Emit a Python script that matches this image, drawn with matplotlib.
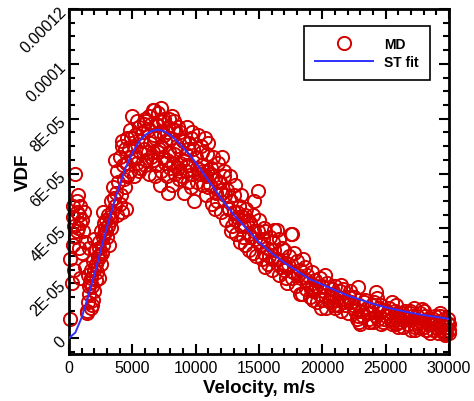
import numpy as np
import matplotlib.pyplot as plt
from matplotlib.ticker import MultipleLocator

plt.rcParams['font.family'] = ['Liberation Sans', 'DejaVu Sans']

E5 = 1e-5

# MD samples: velocity (m/s) and VDF (in units of 1E-05)
md_velocity = [
    # near zero velocity
    100, 250, 100, 300, 500, 400, 300, 600, 800, 900, 600, 1000, 500, 700, 800, 1100,
    400, 1200, 900, 1000, 1250, 700, 600, 850, 350,
    # rising branch
    1400, 1500, 1700, 1600, 1800, 1900, 2000, 2100, 1500, 1300, 1700, 2200, 2400, 1900,
    2300, 2500, 2600, 2100, 2000, 1600, 2400, 2700, 2800, 2500, 3000, 3100, 2900, 3300,
    3200, 2700, 1450, 1650, 2250, 2950,
    1550, 1750, 1850, 2150, 2350, 2650, 2850, 3050, 3350, 3550, 3150, 2450, 1950, 2750,
    # shoulder
    3400, 3600, 3300, 3800, 4000, 4200, 4500, 3700, 3500, 3900, 4100, 4400, 4600, 3800,
    4300, 4000, 4500, 4800, 4200, 4700, 4900, 3650, 4350, 4150,
    4400, 4600, 4900, 5100, 5400,
    # peak, upper part
    5000, 5500, 6000, 6500, 7000, 7300, 7500, 7800, 8300, 8800, 9300, 9600, 10200, 10700,
    11000, 5200, 5700, 6200, 6800, 7200, 7600, 8000, 8500, 6400, 5900, 6600, 7100, 7900,
    8700, 9200, 9800, 5400, 6900, 7400, 8100, 9000, 4800, 6100, 6700, 7700, 8400, 9500,
    5100, 5800, 6300, 6700, 7100, 7500, 7900, 8200, 8600, 9100, 9400, 9700, 10400, 10900,
    5900, 6600, 7300, 6200,
    # peak, lower part
    5300, 5600, 6100, 6900, 7400, 8200, 8600, 9000, 9500, 10000, 7700, 8100, 7800, 8900,
    9400, 9900, 10300, 10600, 9100, 8400, 6300, 5500, 7000, 7600, 8800, 9700, 10100, 6600,
    5600, 6000, 6500, 7300, 7700, 8300, 8700, 9200, 9600, 10100, 10500, 11100, 6800, 7200,
    8000, 8800, 9300,
    # decay 10000-17000
    10500, 11200, 11500, 11800, 12200, 12500, 12800, 13100, 13400, 13700, 14000, 14300,
    14600, 15000, 15300, 15600, 15900, 16200, 10800, 11300, 11600, 12000, 12400, 12900,
    13200, 13500, 13900, 14200, 14800, 15200, 15700, 16000, 12200, 12700, 14900, 14600,
    16400, 17600, 13600, 11000, 10900, 11900, 12600, 13000, 13800, 14400, 15100, 15500,
    16300, 11400, 12300, 13300, 14100, 15400, 10400, 11700,
    10600, 11100, 11400, 11900, 12100, 12600, 13000, 13300, 13600, 13900, 14200, 14500,
    14700, 15100, 15400, 15800, 16100, 16600, 11500, 12800, 13700, 14500, 15500, 12100,
    10800, 13100, 14900, 16000,
    # decay 16000-22000
    16500, 16800, 17100, 17400, 17700, 18000, 18300, 18600, 18900, 19200, 19500, 19800,
    20100, 20400, 20700, 21000, 21300, 21600, 21900, 22200, 16600, 17200, 17900, 18400,
    19000, 19600, 20300, 20900, 21500, 22000, 17500, 16150, 19900, 18250, 17100, 22800,
    21500, 17000, 18700, 19400, 20000, 20600, 21200, 21800, 16900, 18100, 19300, 20800,
    17000, 17300, 17600, 17800, 18200, 18500, 18800, 19100, 19400, 19700, 20200, 20500,
    20800, 21100, 21400, 21700, 22100, 22400, 18700, 19300, 20000, 21000, 16700,
    # tail 22000-30000
    22300, 22600, 22900, 23200, 23500, 23800, 24100, 24400, 24700, 25000, 25300, 25600,
    25900, 26200, 26500, 26800, 27100, 27400, 27700, 28000, 28300, 28600, 28900, 29200,
    29500, 29800, 30000, 29900, 29700, 24200, 23000, 24000, 26000, 27000, 28000, 27200,
    25500, 28500, 29000, 28300, 22500, 23400, 24600, 25200, 25800, 26400, 26900, 27600,
    28200, 28800, 29400, 29600, 30000, 29300, 22700, 23700, 24900, 26100, 27300, 28700,
    22500, 22800, 23100, 23300, 23600, 23900, 24200, 24500, 24800, 25100, 25400, 25700,
    26000, 26300, 26600, 26900, 27200, 27500, 27800, 28100, 28400, 28700, 29000, 29300,
    29600, 29900, 30000, 29800, 29100, 28200, 27300, 26400, 25500, 24600, 23700, 22900,
    24300, 25800, 27900, 29300,
]
md_vdf = [
    # near zero velocity
    0.7, 2.0, 2.9, 3.4, 3.7, 4.1, 4.4, 4.6, 4.5, 4.8, 5.0, 4.3, 6.0, 5.2, 3.3, 3.9,
    2.5, 4.6, 2.2, 3.1, 3.5, 4.0, 3.9, 4.2, 4.8,
    # rising branch
    0.9, 1.3, 1.1, 1.6, 1.9, 1.4, 1.7, 2.1, 2.3, 2.6, 2.5, 2.4, 2.2, 2.8,
    2.9, 2.7, 3.1, 3.2, 3.6, 3.3, 3.5, 3.4, 3.8, 3.9, 3.7, 4.1, 4.3, 4.0,
    4.4, 4.6, 1.0, 2.0, 3.0, 3.9,
    1.9, 2.2, 1.2, 2.7, 3.3, 3.7, 4.0, 4.5, 4.3, 5.1, 3.4, 3.0, 2.5, 4.2,
    # shoulder
    4.6, 4.8, 5.0, 4.5, 4.9, 4.6, 4.7, 5.3, 5.5, 5.7, 5.2, 5.5, 5.9, 6.1,
    6.3, 6.6, 6.4, 6.1, 7.0, 6.9, 7.3, 6.5, 5.8, 7.2,
    6.9, 7.3, 6.6, 5.9, 6.4,
    # peak, upper part
    8.1, 7.7, 8.0, 7.8, 8.2, 8.4, 8.0, 7.7, 7.9, 7.5, 7.7, 7.3, 7.4, 7.3,
    7.1, 7.4, 7.2, 7.6, 7.3, 7.5, 7.2, 7.3, 7.0, 7.1, 6.9, 6.8, 6.9, 6.8,
    6.9, 6.7, 6.9, 7.9, 7.8, 7.9, 8.1, 7.2, 7.6, 7.9, 8.3, 7.5, 7.6, 7.1,
    7.0, 7.5, 8.1, 7.4, 7.9, 7.4, 8.0, 7.6, 7.7, 7.2, 6.9, 7.5, 7.0, 6.7,
    7.8, 8.3, 7.0, 6.8,
    # peak, lower part
    6.6, 6.2, 6.5, 6.3, 6.6, 6.4, 6.2, 6.5, 6.3, 6.6, 5.9, 5.6, 5.3, 5.9,
    5.7, 5.0, 6.0, 5.6, 5.3, 6.0, 6.0, 6.1, 6.8, 6.4, 6.1, 6.0, 6.2, 6.5,
    6.8, 6.3, 6.6, 6.1, 6.5, 6.7, 5.8, 6.1, 5.5, 5.7, 6.3, 6.0, 5.9, 5.6,
    6.2, 6.4, 6.3,
    # decay 10000-17000
    6.8, 6.2, 5.8, 6.4, 5.9, 5.4, 5.0, 5.6, 4.8, 4.4, 4.7, 4.2,
    3.9, 4.3, 3.6, 3.3, 3.7, 3.2, 5.2, 4.9, 5.3, 4.6, 4.3, 4.1,
    3.8, 3.5, 3.4, 3.2, 3.0, 2.9, 2.7, 2.5, 6.1, 5.9, 5.35, 5.0,
    3.95, 3.8, 5.2, 5.5, 6.1, 5.4, 4.7, 4.6, 4.1, 3.7, 3.5, 3.9,
    2.9, 5.9, 5.2, 4.4, 4.3, 3.1, 6.0, 5.0,
    6.1, 5.6, 6.6, 5.7, 5.3, 4.7, 5.2, 4.6, 4.1, 4.5, 3.8, 4.5,
    3.6, 3.4, 4.0, 3.0, 3.5, 3.6, 4.7, 3.9, 3.7, 3.1, 2.6, 6.6,
    5.9, 4.3, 3.9, 2.9,
    # decay 16000-22000
    2.9, 3.3, 2.6, 3.0, 2.4, 2.8, 2.2, 2.6, 2.0, 2.4, 1.9, 2.2,
    1.7, 2.0, 1.6, 1.9, 1.5, 1.8, 1.4, 1.7, 2.3, 2.0, 1.9, 1.6,
    1.5, 1.3, 1.1, 1.2, 1.0, 0.9, 3.8, 3.95, 1.1, 1.6, 2.2, 1.85,
    1.95, 2.5, 2.1, 1.8, 1.4, 1.3, 1.2, 1.2, 2.7, 2.3, 1.7, 1.5,
    3.2, 2.7, 2.2, 3.1, 2.5, 2.9, 2.3, 1.8, 2.1, 1.6, 2.3, 1.4,
    1.8, 1.4, 1.7, 1.3, 1.5, 1.2, 1.8, 1.4, 1.9, 1.1, 2.6,
    # tail 22000-30000
    1.3, 1.0, 1.2, 0.8, 1.1, 0.9, 1.3, 0.7, 1.0, 0.8, 1.1, 0.6,
    0.9, 0.7, 1.0, 0.5, 0.8, 0.6, 0.9, 0.4, 0.7, 0.5, 0.8, 0.3,
    0.6, 0.4, 0.2, 0.7, 0.1, 1.67, 0.5, 0.6, 0.4, 0.3, 1.0, 1.1,
    1.3, 0.2, 0.4, 0.6, 1.5, 1.4, 1.2, 0.9, 0.5, 0.8, 0.9, 0.4,
    0.3, 0.6, 0.5, 0.2, 0.5, 0.8, 0.7, 0.6, 0.7, 0.6, 0.4, 0.3,
    1.1, 0.8, 1.0, 1.3, 0.9, 1.2, 0.8, 1.1, 0.6, 0.9, 0.7, 1.0,
    0.6, 0.9, 0.7, 1.0, 0.5, 0.8, 0.6, 0.8, 0.5, 0.7, 0.6, 0.4,
    0.7, 0.5, 0.3, 0.2, 0.2, 0.3, 0.3, 0.4, 0.5, 0.5, 0.7, 0.6,
    1.45, 1.2, 1.05, 0.9,
]

# ST fit curve
fit_velocity = [0, 500, 1000, 1500, 2000, 2500, 3000, 3500, 4000, 4500, 5000, 5500,
                6000, 6500, 7000, 7500, 8000, 8500, 9000, 9500, 10000, 11000, 12000,
                13000, 14000, 15000, 16000, 17000, 18000, 19000, 20000, 21000, 22000,
                23000, 24000, 25000, 26000, 27000, 28000, 29000, 30000]
fit_vdf = [0.0, 0.2, 0.75, 1.5, 2.3, 3.2, 4.05, 4.85, 5.6, 6.25, 6.75, 7.15,
           7.4, 7.55, 7.6, 7.55, 7.4, 7.2, 6.95, 6.7, 6.4, 5.75, 5.1,
           4.5, 4.0, 3.5, 3.1, 2.75, 2.45, 2.15, 1.95, 1.75, 1.55,
           1.4, 1.25, 1.12, 1.02, 0.92, 0.84, 0.77, 0.7]

y_ticks = [0, 2e-5, 4e-5, 6e-5, 8e-5, 1e-4, 1.2e-4]
y_tick_labels = ['0', '2E-05', '4E-05', '6E-05', '8E-05', '0.0001', '0.00012']
x_ticks = [0, 5000, 10000, 15000, 20000, 25000, 30000]

fig = plt.figure(figsize=(4.74, 4.02), dpi=100)
ax = fig.add_axes([0.1456, 0.117, 0.8017, 0.858])

ax.plot(md_velocity, np.array(md_vdf) * E5, linestyle='none', marker='o', ms=9.5,
        mfc='none', mec='#d40000', mew=1.4, label='MD', clip_on=False, zorder=2)
ax.plot(fit_velocity, np.array(fit_vdf) * E5, color='#3030ff', lw=1.4,
        label='ST fit', zorder=3)

ax.set_xlim(0, 30000)
ax.set_ylim(-5.8e-6, 1.2e-4)
ax.set_xticks(x_ticks)
ax.set_xticklabels([str(t) for t in x_ticks], fontsize=11.5)
ax.set_yticks(y_ticks)
ax.set_yticklabels(y_tick_labels, fontsize=11.5, rotation=45, ha='right',
                   va='center', rotation_mode='anchor')
ax.xaxis.set_minor_locator(MultipleLocator(1000))
ax.yaxis.set_minor_locator(MultipleLocator(0.5e-5))
ax.tick_params(which='both', direction='in', top=True, right=True, width=1.5)
ax.tick_params(which='major', length=7, pad=4)
ax.tick_params(which='minor', length=4)
for spine in ax.spines.values():
    spine.set_linewidth(2)

ax.set_xlabel('Velocity, m/s', fontsize=13.5, fontweight='bold', labelpad=3)
ax.set_ylabel('VDF', fontsize=13.5, fontweight='bold')
ax.yaxis.set_label_coords(-0.097, 0.53)

legend = ax.legend(loc='upper right', bbox_to_anchor=(0.95, 0.951), borderaxespad=0,
                   fancybox=False, edgecolor='black', framealpha=1, handlelength=4.2,
                   prop={'weight': 'bold', 'size': 10}, borderpad=0.8,
                   handletextpad=0.8, labelspacing=0.3)
legend.get_frame().set_linewidth(1.2)

fig.savefig('out.png', dpi=100)
